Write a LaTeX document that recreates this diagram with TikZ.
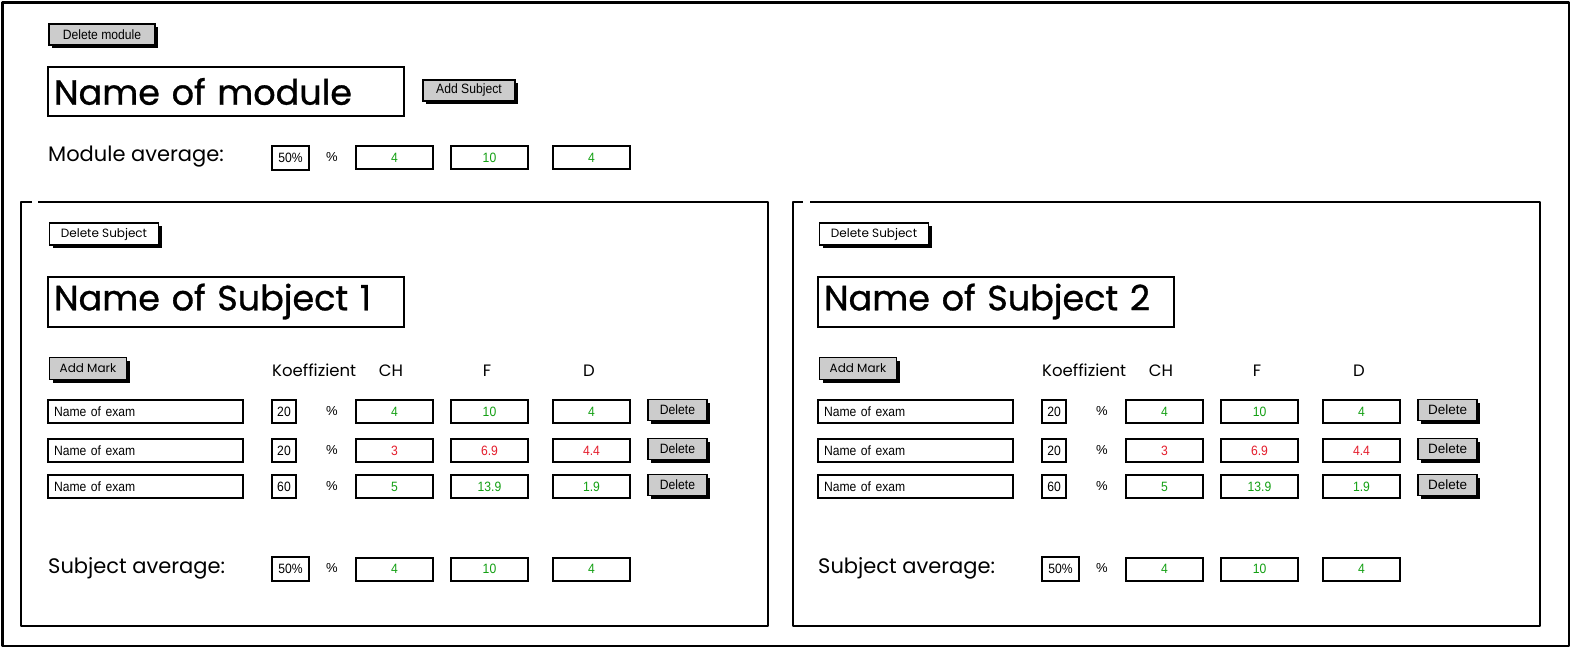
\documentclass[tikz,border=0pt]{standalone}
\usepackage{fontspec}
\setmainfont{Poppins}
\newfontfamily\titlefont[FakeBold=0.9]{Poppins}
\newfontfamily\narrowfont[FakeStretch=0.9]{Liberation Sans}
\newfontfamily\arialfont{Liberation Sans}
\usetikzlibrary{shadows}
\definecolor{okgreen}{RGB}{20,160,20}
\definecolor{badred}{RGB}{228,30,45}
\definecolor{btngray}{RGB}{204,204,204}
\tikzset{
  frameline/.style={draw=black, line width=2.2pt, line join=round},
  field/.style={draw=black, line width=2pt, fill=white, inner sep=0pt,
    general shadow={fill=black, shadow xshift=1.3pt, shadow yshift=-1.3pt},
    font=\narrowfont\fontsize{13.5}{15}\selectfont},
  btn/.style={draw=black, line width=1.6pt, fill=btngray, inner sep=0pt,
    general shadow={fill=black, shadow xshift=3pt, shadow yshift=-3pt},
    font=\narrowfont\fontsize{13.5}{15}\selectfont},
  wbtn/.style={btn, fill=white, font=\fontsize{12}{14}\selectfont},
  gbtn/.style={btn, font=\fontsize{12}{14}\selectfont},
  title/.style={draw=black, line width=2pt, fill=white, inner sep=0pt,
    general shadow={fill=black, shadow xshift=1.3pt, shadow yshift=-1.3pt},
    font=\titlefont\fontsize{35}{40}\selectfont},
  lbl/.style={inner sep=0pt, font=\fontsize{21}{24}\selectfont},
  hdr/.style={inner sep=0pt, font=\fontsize{16.5}{19}\selectfont},
  pct/.style={inner sep=0pt, font=\arialfont\fontsize{13}{15}\selectfont},
}
\newcommand\valboxes[6]{% x-offset, name, y, ch, f, d (with colour)
  \node[field, minimum width=77, minimum height=23] (#2ch) at (394.5+#1,#3) {#4};
  \node[field, minimum width=77, minimum height=23] (#2f) at (489.5+#1,#3) {#5};
  \node[field, minimum width=77, minimum height=23] (#2d) at (591.5+#1,#3) {#6};
}
\newcommand\examrow[8]{% offset, name, y, coef, ch, f, d, delete font
  \node[field, minimum width=195, minimum height=23, text width=183, align=left] (#2name) at (145.5+#1,#3) {Name of exam};
  \node[field, minimum width=24, minimum height=23] (#2coef) at (284+#1,#3) {#4};
  \node[pct] (#2pct) at (332+#1,#3) {\%};
  \valboxes{#1}{#2}{#3}{#5}{#6}{#7}
  \node[btn, font=#8, minimum width=59, minimum height=21] (#2del) at (677.5+#1,#3-1.5) {Delete};
}
\newcommand\subjectpanel[4]{% offset, prefix, title, delete font
  \node[wbtn, minimum width=109, minimum height=22] (#2delsub) at (104+#1,234) {Delete Subject};
  \node[title, minimum width=356, minimum height=50, text width=344, align=left] (#2title) at (226+#1,301.5) {#3};
  \node[gbtn, minimum width=77, minimum height=22] (#2addmark) at (88+#1,368.5) {Add Mark};
  \node[hdr, anchor=west] (#2koef) at (272+#1,370) {Koeffizient};
  \node[hdr] (#2hch) at (391+#1,371) {CH};
  \node[hdr] (#2hf) at (487+#1,371) {F};
  \node[hdr] (#2hd) at (589+#1,371) {D};
  \examrow{#1}{#2ra}{411.5}{20}{\textcolor{okgreen}{4}}{\textcolor{okgreen}{10}}{\textcolor{okgreen}{4}}{#4}
  \examrow{#1}{#2rb}{450.5}{20}{\textcolor{badred}{3}}{\textcolor{badred}{6.9}}{\textcolor{badred}{4.4}}{#4}
  \examrow{#1}{#2rc}{486.5}{60}{\textcolor{okgreen}{5}}{\textcolor{okgreen}{13.9}}{\textcolor{okgreen}{1.9}}{#4}
  \node[lbl, anchor=west] (#2avg) at (48+#1,568) {Subject average:};
  \node[field, minimum width=37, minimum height=24] (#2avgpc) at (290.5+#1,569) {50\%};
  \node[pct] (#2avgpct) at (332+#1,568) {\%};
  \valboxes{#1}{#2av}{569}{\textcolor{okgreen}{4}}{\textcolor{okgreen}{10}}{\textcolor{okgreen}{4}}
}
\begin{document}
\begin{tikzpicture}[x=1pt,y=-1pt]
\useasboundingbox[fill=white] (0,0) rectangle (1573,650);
% outer frame
\draw[frameline] (2.5,2.5) rectangle (1569,646);
% module header
\node[btn, minimum width=106, minimum height=21] (delmod) at (102,34.5) {Delete module};
\node[title, minimum width=356, minimum height=49, text width=344, align=left] (modname) at (226,91.5) {Name of module};
\node[btn, minimum width=92, minimum height=21] (addsub) at (469,90.5) {Add Subject};
\node[lbl, anchor=west] (modavg) at (48,157) {Module average:};
\node[field, minimum width=37, minimum height=24] (modpc) at (290.5,158) {50\%};
\node[pct] (modpct) at (332,157) {\%};
\valboxes{0}{mod}{157.5}{\textcolor{okgreen}{4}}{\textcolor{okgreen}{10}}{\textcolor{okgreen}{4}}
% subject panels
\draw[frameline] (38,202) -- (768,202) -- (768,626) -- (21,626) -- (21,202) -- (32,202);
\draw[frameline] (810,202) -- (1540,202) -- (1540,626) -- (793,626) -- (793,202) -- (803,202);
\subjectpanel{0}{a}{Name of Subject 1}{\narrowfont\fontsize{13.5}{15}\selectfont}
\subjectpanel{770}{b}{Name of Subject 2}{\arialfont\fontsize{13.5}{15}\selectfont}
\end{tikzpicture}
\end{document}
